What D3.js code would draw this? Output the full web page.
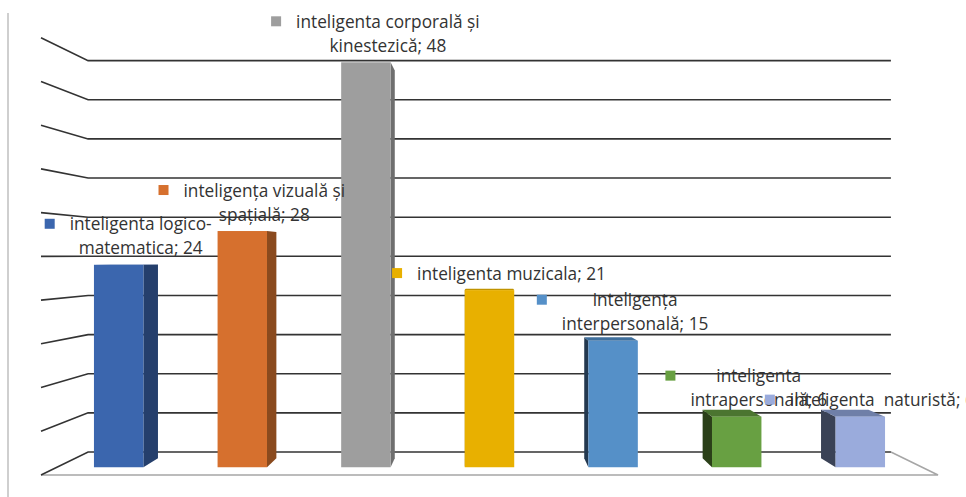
<!DOCTYPE html>
<html>
<head>
<meta charset="utf-8">
<script src="https://cdn.jsdelivr.net/npm/d3@7"></script>
<style>
  body { margin: 0; background: #fff; }
  svg { display: block; }
  .lbl text { font-family: "Open Sans", sans-serif; fill: #333; }
</style>
</head>
<body>
<div id="chart"></div>
<script>
// data
var categories = [
  "inteligenta logico-\nmatematica",
  "inteligența vizuală și\nspațială",
  "inteligenta corporală și\nkinestezică",
  "inteligenta muzicala",
  "inteligența\ninterpersonală",
  "inteligenta\nintrapersonală",
  "inteligenta  naturistă"
];
var values = [24, 28, 48, 21, 15, 6, 6];
var frontColors = ["#3b66ae", "#d6702e", "#9e9e9e", "#e8b000", "#5590c8", "#68a042", "#9aabdc"];
var sideColors  = ["#253f6c", "#8a4a1e", "#6f6f6f", "#9a7400", "#23384f", "#2b4019", "#3a4256"];
var topColors   = ["#2f5290", "#b05b25", "#858585", "#c09300", "#3f6f9c", "#4b7530", "#6f7fa8"];
var yTicks = [0, 5, 10, 15, 20, 25, 30, 35, 40, 45, 50];

var width = 966, height = 497;
var svg = d3.select("#chart").append("svg")
  .attr("width", width)
  .attr("height", height);

// front plane scales
var x = d3.scaleBand()
  .domain(categories)
  .range([41, 938])
  .paddingInner(0.6)
  .paddingOuter(0.3);
var y = d3.scaleLinear()
  .domain([0, 50])
  .range([475, 37.7]);

// simple perspective: shrink toward the vanishing point
var VX = 489.5, VY = 256;
var S_BACK = 0.895, S_BAR_F = 0.9646, S_BAR_B = 0.924;
function P(px, py, s) { return [VX + (px - VX) * s, VY + (py - VY) * s]; }
var line = d3.line();

// frame edge on the left
svg.append("line")
  .attr("x1", 8).attr("x2", 8)
  .attr("y1", 13).attr("y2", height)
  .attr("stroke", "#bfbfbf")
  .attr("stroke-width", 1.5);

// floor (front and right edges)
var x0 = x.range()[0], x1 = x.range()[1];
svg.append("path")
  .attr("d", line([P(x0, y(0), 1), P(x1, y(0), 1), P(x1, y(0), S_BACK)]))
  .attr("fill", "none")
  .attr("stroke", "#a6a6a6")
  .attr("stroke-width", 1.5);

// gridlines on side wall + back wall
svg.selectAll(".grid")
  .data(yTicks)
  .enter()
  .append("path")
  .attr("class", "grid")
  .attr("d", function(t) {
    return line([P(x0, y(t), 1), P(x0, y(t), S_BACK), P(x1, y(t), S_BACK)]);
  })
  .attr("fill", "none")
  .attr("stroke", "#333")
  .attr("stroke-width", 1.6);

// bars
var bars = svg.selectAll(".bar")
  .data(categories)
  .enter()
  .append("g")
  .attr("class", "bar");

bars.each(function(c, i) {
  var g = d3.select(this);
  var l = x(c), r = x(c) + x.bandwidth();
  var b = y(0), t = y(values[i]);
  var cx = l + x.bandwidth() / 2;
  // side face toward the centre
  var sx = cx < VX ? r : l;
  g.append("path")
    .attr("d", line([P(sx, t, S_BAR_F), P(sx, t, S_BAR_B), P(sx, b, S_BAR_B), P(sx, b, S_BAR_F)]) + "Z")
    .attr("fill", sideColors[i]);
  // top face if below eye level
  if (t > VY) {
    g.append("path")
      .attr("d", line([P(l, t, S_BAR_F), P(l, t, S_BAR_B), P(r, t, S_BAR_B), P(r, t, S_BAR_F)]) + "Z")
      .attr("fill", topColors[i]);
  }
  var p1 = P(l, t, S_BAR_F), p2 = P(r, b, S_BAR_F);
  g.append("rect")
    .attr("x", p1[0])
    .attr("y", p1[1])
    .attr("width", p2[0] - p1[0])
    .attr("height", p2[1] - p1[1])
    .attr("fill", frontColors[i]);
});

// pick a font size so "inteligenta muzicala; 21" is about 189px wide, like the original
var probe = svg.append("g").attr("class", "lbl").append("text")
  .attr("font-size", 20)
  .text(categories[3] + "; " + values[3]);
var fontSize = 20 * 189 / probe.node().getComputedTextLength();
probe.node().parentNode.remove();

// data labels with legend key
var labels = svg.selectAll(".lbl")
  .data(categories)
  .enter()
  .append("g")
  .attr("class", "lbl");

labels.each(function(c, i) {
  var g = d3.select(this);
  var lines = (c + "; " + values[i]).split("\n");
  var n = lines.length;
  var top = P(x(c), y(values[i]), S_BAR_F)[1];
  var cx = P(x(c) + x.bandwidth() / 2, 0, S_BAR_F)[0] + 22;
  var minX = Infinity;
  lines.forEach(function(s, k) {
    var tx = g.append("text")
      .attr("x", cx)
      .attr("y", top - 17 - (n - 1 - k) * 24)
      .attr("text-anchor", "middle")
      .attr("dominant-baseline", "central")
      .attr("font-size", fontSize)
      .attr("xml:space", "preserve")
      .text(s);
    var w = tx.node().getComputedTextLength();
    minX = Math.min(minX, cx - w / 2);
  });
  g.insert("rect", "text")
    .attr("x", minX - 25)
    .attr("y", top - 17 - (n - 1) * 24 - 5)
    .attr("width", 10)
    .attr("height", 10)
    .attr("fill", frontColors[i]);
});
</script>
</body>
</html>
